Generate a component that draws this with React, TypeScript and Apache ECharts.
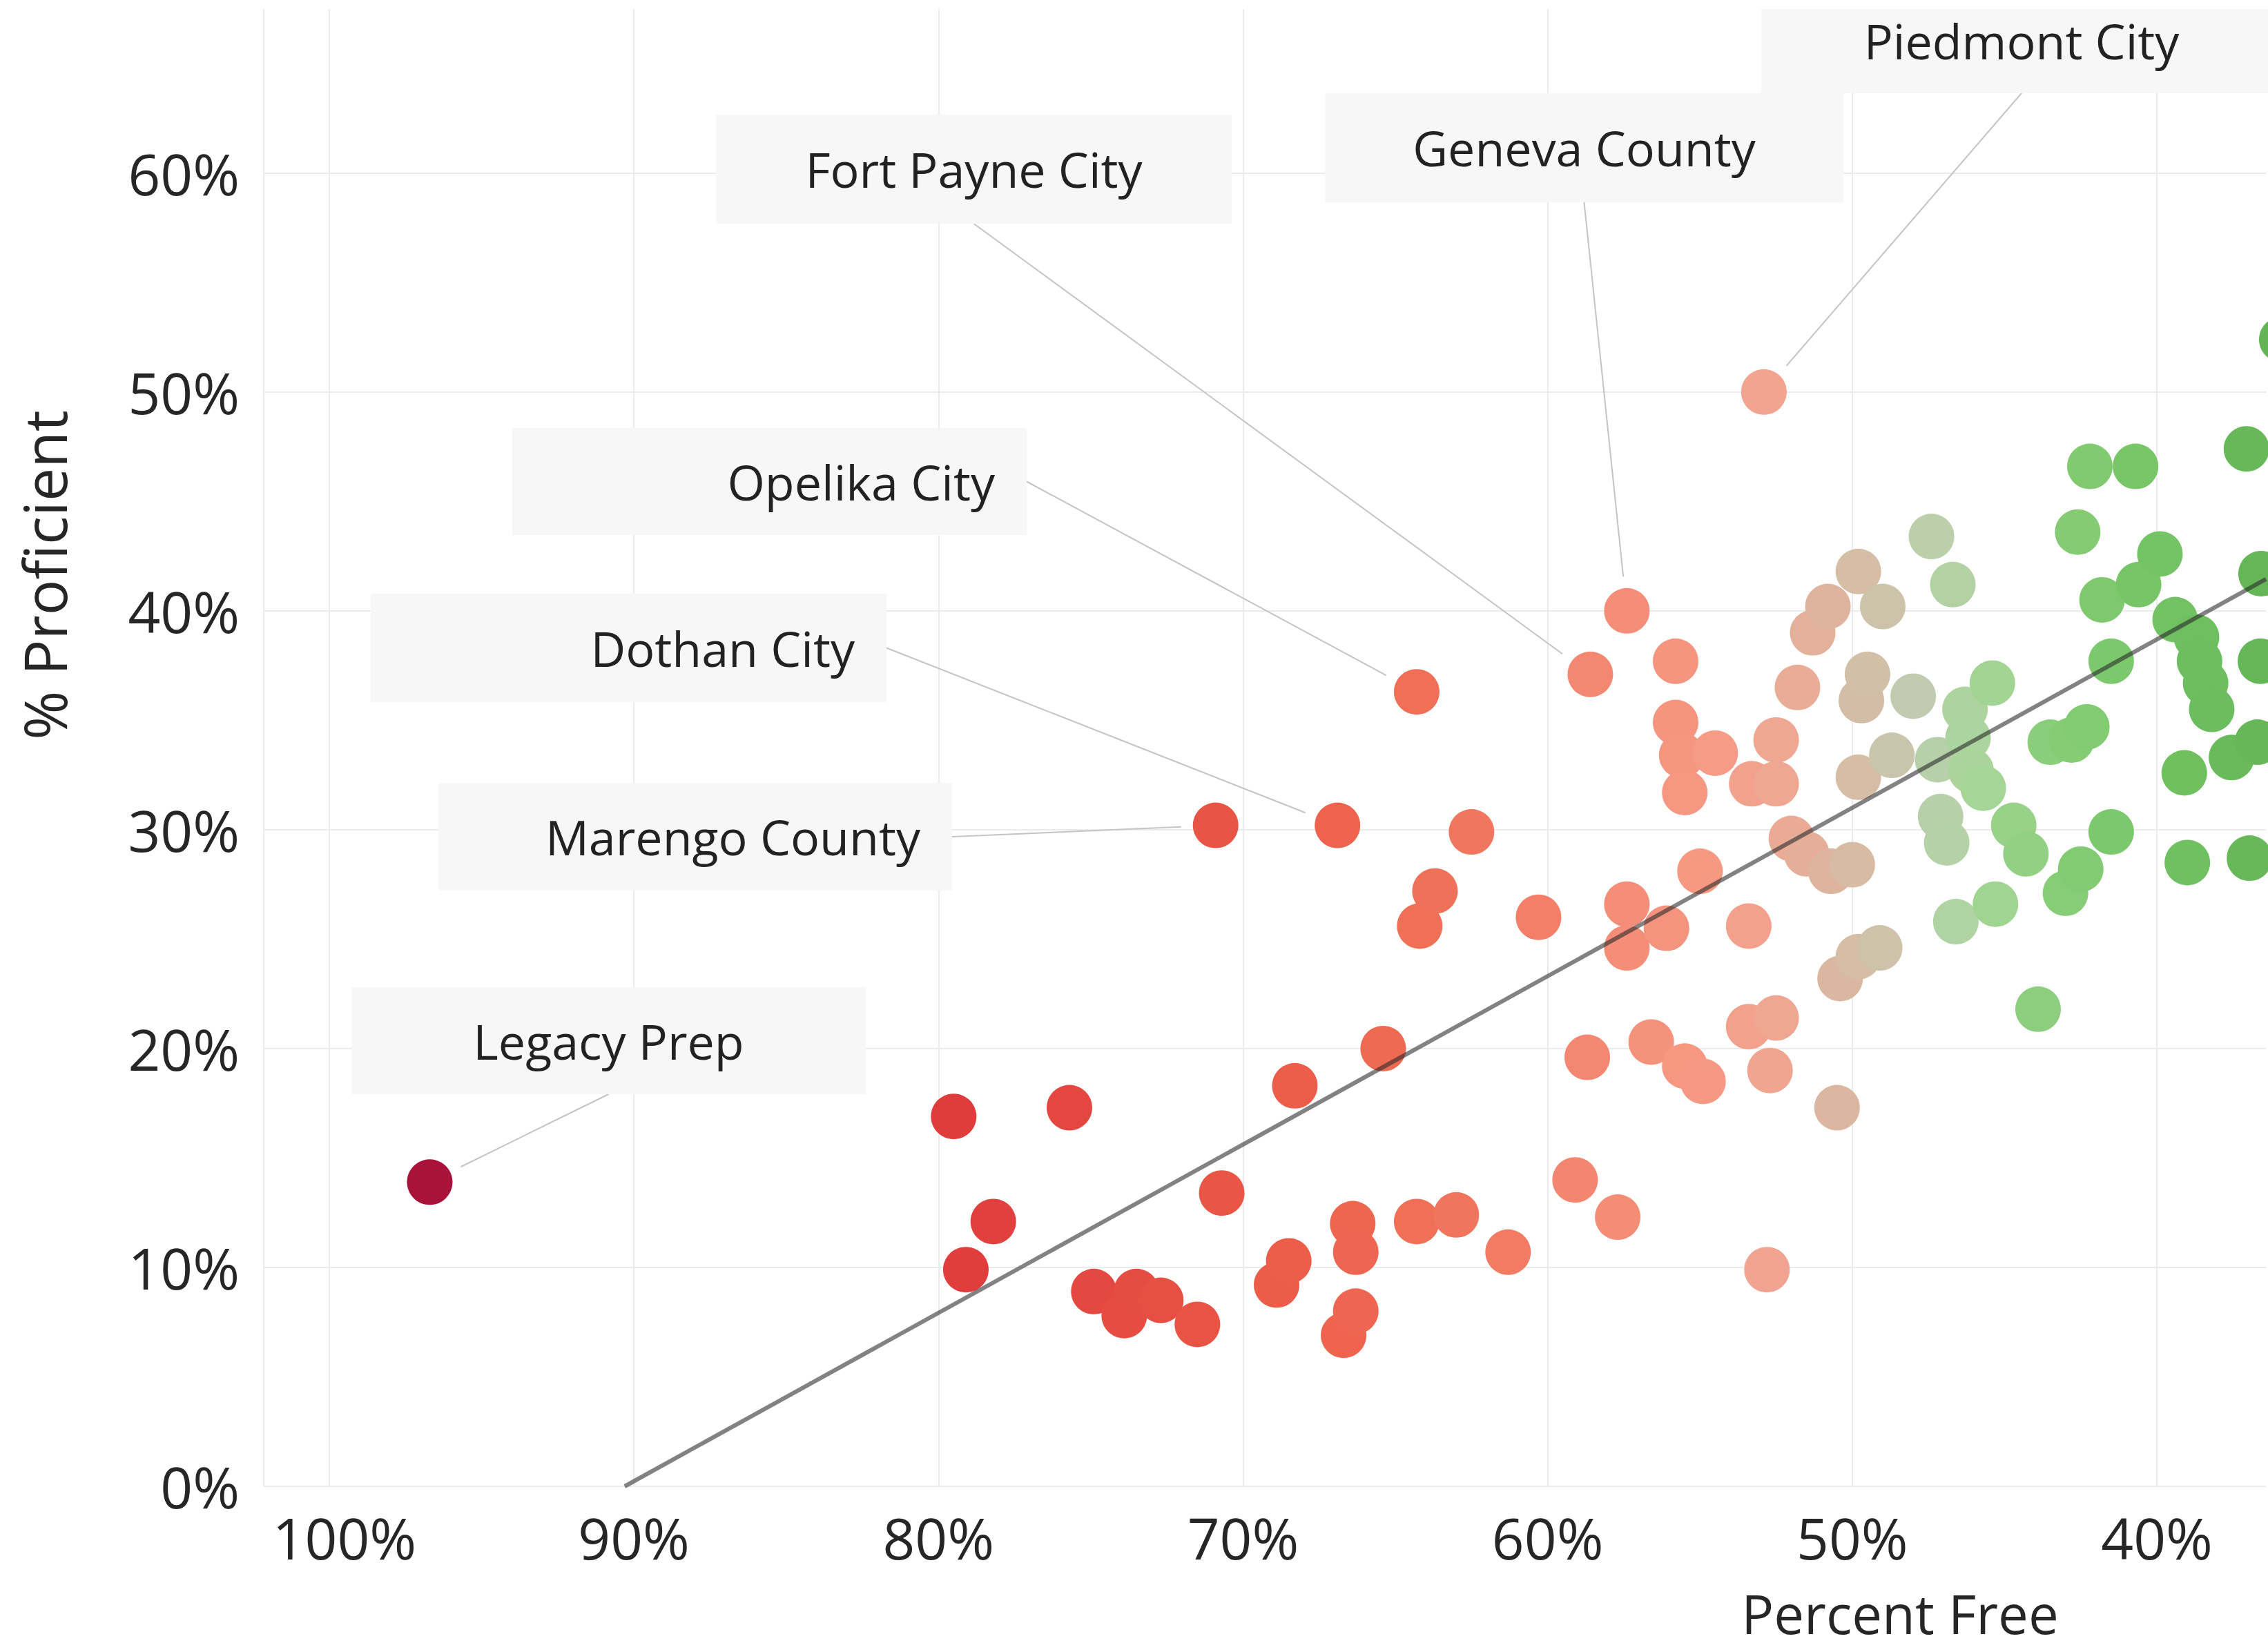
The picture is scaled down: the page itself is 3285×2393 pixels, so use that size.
import React, { useEffect, useRef } from "react";
import * as echarts from "echarts";

// ---------------- DATA ----------------
const percentFree: number[] = [
  79.5, 79.1, 78.2, 75.7, 74.9, 73.9, 73.5, 72.7, 71.5, 70.7,
  68.9, 68.5, 68.3, 66.7, 66.3, 66.4, 66.3, 65.4, 64.3, 64.2,
  63.7, 63.0, 62.5, 61.3, 60.3, 59.1, 58.7, 57.7, 57.4, 57.4,
  56.6, 56.1, 55.8, 55.8, 55.6, 55.5, 55.5, 54.9, 55.0, 54.5,
  53.4, 53.4, 53.3, 52.8, 52.7, 52.5, 52.5, 52.5, 52.0, 51.8,
  51.3, 51.5, 50.8, 50.7, 50.4, 50.5, 50.0, 49.8, 49.7, 49.5,
  49.8, 49.8, 49.1, 49.0, 48.7, 48.0, 47.4, 47.2, 47.1, 46.9,
  46.6, 46.7, 46.3, 46.2, 46.1, 45.7, 45.4, 45.3, 44.7, 44.3,
  43.9, 43.5, 43.0, 42.8, 42.6, 42.5, 42.3, 42.2, 41.8, 41.5,
  41.5, 40.7, 40.6, 39.9, 39.4, 39.1, 39.0, 38.7, 38.6, 38.4,
  38.2, 37.55, 37.06, 36.96, 36.7, 35.9, 36.58, 36.6,
];
const percentProficient: number[] = [
  16.9, 9.9, 12.1, 17.3, 8.9, 7.8, 8.9, 8.5, 7.4, 13.4,
  9.2, 10.3, 18.3, 6.9, 8.0, 12.0, 10.7, 20.0, 12.1, 25.6,
  27.2, 12.4, 29.9, 10.7, 26.0, 14.0, 19.6, 12.3, 26.6, 24.6,
  20.3, 25.5, 37.7, 34.9, 33.4, 31.7, 19.2, 18.5, 28.1, 33.5,
  25.6, 21.0, 32.1, 9.9, 19.0, 21.4, 34.1, 32.1, 29.6, 36.5,
  39.0, 28.9, 40.2, 28.1, 23.2, 17.3, 28.4, 41.8, 35.9, 37.1,
  32.4, 24.2, 24.6, 40.2, 33.4, 36.1, 43.4, 33.2, 30.6, 29.4,
  25.8, 41.2, 35.5, 34.2, 32.7, 31.9, 36.7, 26.6, 30.2, 28.9,
  21.8, 34.0, 27.1, 34.1, 43.6, 28.2, 34.7, 46.6, 40.5, 37.7,
  29.9, 46.6, 41.2, 42.6, 39.6, 32.6, 28.5, 38.8, 37.7, 36.7,
  35.5, 33.3, 47.4, 28.7, 34.0, 52.4, 41.7, 37.7,
];

const annotatedNames: string[] = [
  "Legacy Prep", "Marengo County", "Dothan City", "Opelika City",
  "Fort Payne City", "Geneva County", "Piedmont City",
];
const annotatedFree: number[] = [96.7, 70.9, 66.9, 64.3, 58.6, 57.4, 52.9];
const annotatedProficient: number[] = [13.9, 30.2, 30.2, 36.3, 37.1, 40.0, 50.0];

const trendFree: number[] = [90.3, 36.42];
const trendProficient: number[] = [0, 41.45];

const xTickValues: number[] = [40, 50, 60, 70, 80, 90, 100];
const yTickValues: number[] = [0, 10, 20, 30, 40, 50, 60];

const xAxisTitle = "Percent Free";
const yAxisTitle = "% Proficient";

// ---------------- LAYOUT / STYLE ----------------
const W = 3285;
const H = 2393;
const FONT = '"Open Sans", "Noto Sans", sans-serif';
const TEXT_COLOR = "#262626";
const X_MIN = 36.42;
const X_MAX = 102.15;
const Y_MIN = 0;
const Y_MAX = 67.5;

type Box = {
  left: number; top: number; width: number; height: number;
  align: "center" | "right"; anchor: "bottom" | "right"; textY?: number;
};
const BOXES: Record<string, Box> = {
  "Legacy Prep": { left: 509, top: 1430, width: 745, height: 155, align: "center", anchor: "bottom" },
  "Marengo County": { left: 635, top: 1134, width: 744, height: 156, align: "right", anchor: "right" },
  "Dothan City": { left: 537, top: 860, width: 747, height: 157, align: "right", anchor: "right" },
  "Opelika City": { left: 742, top: 620, width: 745, height: 155, align: "right", anchor: "right" },
  "Fort Payne City": { left: 1037, top: 166, width: 747, height: 158, align: "center", anchor: "bottom" },
  "Geneva County": { left: 1919, top: 135, width: 751, height: 158, align: "center", anchor: "bottom" },
  "Piedmont City": { left: 2551, top: 13, width: 754, height: 122, align: "center", anchor: "bottom", textY: 59 },
};

const COLOR_STOPS: [number, string][] = [
  [36, "#62b455"], [39, "#6fc060"], [42, "#7fca6e"], [44, "#8ecf80"],
  [45.5, "#a3d594"], [46.8, "#b3d2a6"], [48, "#c2cbb0"], [49.5, "#d2bfa8"],
  [51, "#e0b29c"], [52.5, "#efa693"], [54, "#f59d88"], [57, "#f5907a"],
  [60, "#f3806a"], [64, "#f07058"], [68, "#ec5f4b"], [72, "#e85143"],
  [76, "#e34640"], [80, "#df3a3b"], [97, "#a8123a"],
];
const RAMP_MIN = 36;
const RAMP_MAX = 97;

function hexToRgb(h: string) {
  const n = parseInt(h.slice(1), 16);
  return [(n >> 16) & 255, (n >> 8) & 255, n & 255];
}
function rampColor(v: number) {
  for (let i = 0; i < COLOR_STOPS.length - 1; i++) {
    const [a, ca] = COLOR_STOPS[i];
    const [b, cb] = COLOR_STOPS[i + 1];
    if (v >= a && v <= b) {
      const t = (v - a) / (b - a);
      const A = hexToRgb(ca), B = hexToRgb(cb);
      const c = A.map((x, k) => Math.round(x + (B[k] - x) * t));
      return `rgb(${c[0]},${c[1]},${c[2]})`;
    }
  }
  return v < RAMP_MIN ? COLOR_STOPS[0][1] : COLOR_STOPS[COLOR_STOPS.length - 1][1];
}
const RAMP: string[] = [];
for (let v = RAMP_MIN; v <= RAMP_MAX + 1e-9; v += 0.5) RAMP.push(rampColor(v));

const isTick = (v: number) => Math.abs(v - Math.round(v / 10) * 10) < 1e-6;

export default function App() {
  const ref = useRef<HTMLDivElement>(null);

  useEffect(() => {
    document.body.style.margin = "0";
    if (!ref.current) return;
    const chart = echarts.init(ref.current, null, { renderer: "svg", width: W, height: H });

    const points: [number, number][] = percentFree.map((x, i) => [x, percentProficient[i]]);
    annotatedFree.forEach((x, i) => points.push([x, annotatedProficient[i]]));

    const option: any = {
      animation: false,
      backgroundColor: "#ffffff",
      grid: { left: 382, right: 0, top: 13, bottom: 240, containLabel: false },
      xAxis: {
        type: "value",
        inverse: true,
        min: X_MIN,
        max: X_MAX,
        minInterval: 10,
        maxInterval: 10,
        axisLine: { show: false },
        axisTick: { show: false },
        splitLine: { show: true, showMinLine: false, lineStyle: { color: "#ebebeb", width: 2 } },
        axisLabel: {
          margin: 33,
          fontSize: 82,
          fontFamily: FONT,
          color: TEXT_COLOR,
          formatter: (v: number) => {
            if (!isTick(v)) return "";
            const r = Math.round(v);
            if (!xTickValues.includes(r)) return "";
            return r === 100 ? "{shift|100%}" : r + "%";
          },
          rich: {
            shift: { padding: [0, 0, 0, 44], fontSize: 82, fontFamily: FONT, color: TEXT_COLOR },
          },
        },
      },
      yAxis: {
        type: "value",
        min: Y_MIN,
        max: Y_MAX,
        minInterval: 10,
        maxInterval: 10,
        axisLine: { show: false },
        axisTick: { show: false },
        splitLine: { show: true, showMaxLine: false, lineStyle: { color: "#ebebeb", width: 2 } },
        axisLabel: {
          margin: 35,
          fontSize: 82,
          fontFamily: FONT,
          color: TEXT_COLOR,
          formatter: (v: number) => {
            if (!isTick(v)) return "";
            const r = Math.round(v);
            return yTickValues.includes(r) ? r + "%" : "";
          },
        },
      },
      visualMap: {
        show: false,
        type: "continuous",
        dimension: 0,
        seriesIndex: 0,
        min: RAMP_MIN,
        max: RAMP_MAX,
        inRange: { color: RAMP },
      },
      series: [
        {
          type: "scatter",
          data: points,
          symbol: "circle",
          symbolSize: 66,
          clip: false,
          itemStyle: { opacity: 1 },
          z: 2,
          silent: true,
        },
        {
          type: "line",
          data: trendFree.map((x, i) => [x, trendProficient[i]]),
          symbol: "none",
          lineStyle: { color: "rgba(40,40,40,0.58)", width: 6 },
          z: 5,
          silent: true,
        },
      ],
    };
    chart.setOption(option);

    const graphics: any[] = [];
    annotatedNames.forEach((name, i) => {
      const b = BOXES[name];
      const p = chart.convertToPixel({ gridIndex: 0 }, [annotatedFree[i], annotatedProficient[i]]) as number[];
      let ax: number, ay: number;
      if (b.anchor === "bottom") {
        ax = b.left + b.width / 2;
        ay = b.top + b.height;
      } else {
        ax = b.left + b.width;
        ay = b.top + b.height / 2;
      }
      const dx = p[0] - ax, dy = p[1] - ay;
      const len = Math.sqrt(dx * dx + dy * dy);
      const stop = 50;
      const ex = p[0] - (dx / len) * stop;
      const ey = p[1] - (dy / len) * stop;
      graphics.push({
        type: "line",
        z: 20,
        silent: true,
        shape: { x1: ax, y1: ay, x2: ex, y2: ey },
        style: { stroke: "#c4c4c4", lineWidth: 2 },
      });
      graphics.push({
        type: "rect",
        z: 21,
        silent: true,
        shape: { x: b.left, y: b.top, width: b.width, height: b.height },
        style: { fill: "#f7f7f7" },
      });
      const tx = b.align === "center" ? b.left + b.width / 2 : b.left + b.width - 46;
      const ty = b.textY !== undefined ? b.textY : b.top + b.height / 2;
      graphics.push({
        type: "text",
        z: 22,
        silent: true,
        x: tx,
        y: ty,
        style: {
          text: name,
          fontSize: 70,
          fontFamily: FONT,
          fill: "#222222",
          align: b.align,
          textAlign: b.align,
          verticalAlign: "middle",
          textVerticalAlign: "middle",
        },
      });
    });

    graphics.push({
      type: "text",
      z: 22,
      silent: true,
      x: 63,
      y: 833,
      rotation: Math.PI / 2,
      style: {
        text: yAxisTitle,
        fontSize: 86,
        fontFamily: FONT,
        fill: TEXT_COLOR,
        align: "center",
        textAlign: "center",
        verticalAlign: "middle",
        textVerticalAlign: "middle",
      },
    });
    graphics.push({
      type: "text",
      z: 22,
      silent: true,
      x: 2752,
      y: 2337,
      style: {
        text: xAxisTitle,
        fontSize: 78,
        fontFamily: FONT,
        fill: TEXT_COLOR,
        align: "center",
        textAlign: "center",
        verticalAlign: "middle",
        textVerticalAlign: "middle",
      },
    });

    chart.setOption({ graphic: { elements: graphics } });

    return () => chart.dispose();
  }, []);

  return (
    <div
      ref={ref}
      style={{ position: "absolute", left: 0, top: 0, width: W, height: H, background: "#fff" }}
    />
  );
}
